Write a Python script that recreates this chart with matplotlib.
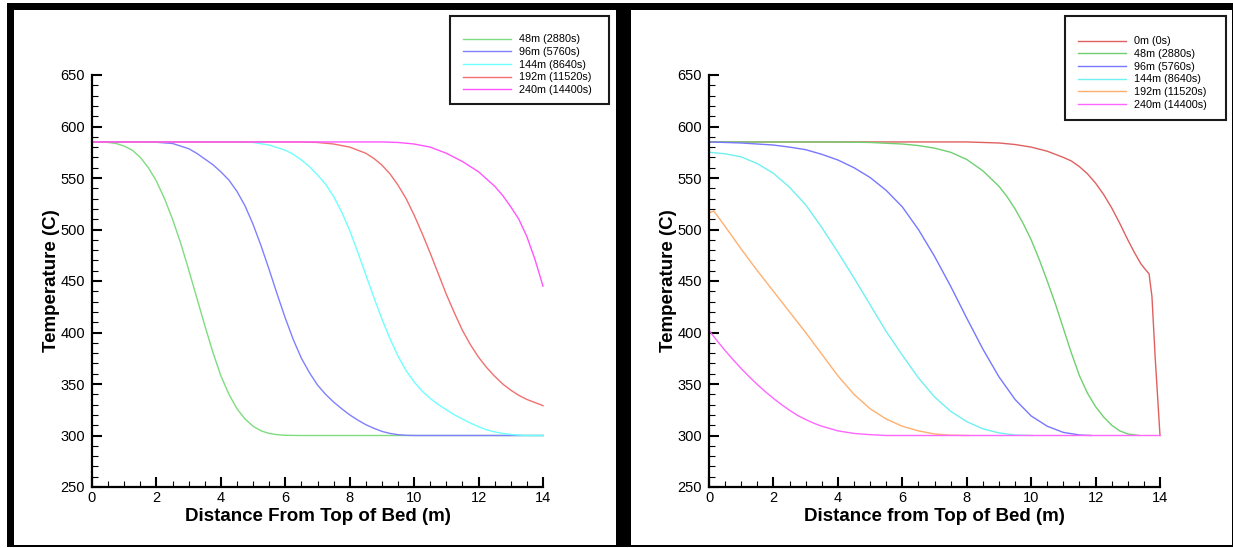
import matplotlib
matplotlib.use('Agg')
import matplotlib.pyplot as plt
from matplotlib.patches import Rectangle
from matplotlib.ticker import MultipleLocator

plt.rcParams['font.family'] = ['Liberation Sans', 'DejaVu Sans']

W, H = 1233, 548

# ---- left panel data (distance m, temperature C) ----
l48_x = [0, 0.25, 0.5, 0.75, 1, 1.25, 1.5, 1.75, 2, 2.25, 2.5, 2.75, 3, 3.25, 3.5, 3.75,
         4, 4.25, 4.5, 4.75, 5, 5.25, 5.5, 5.75, 6, 6.5, 14]
l48_T = [585, 585, 584.5, 583.5, 581, 577, 570, 560, 547, 530, 510, 487, 461, 434, 407, 381,
         358, 340, 326, 316, 309, 304.5, 302, 300.8, 300.2, 300, 300]

l96_x = [0, 1.5, 2, 2.5, 3, 3.25, 3.5, 3.75, 4, 4.25, 4.5, 4.75, 5, 5.25, 5.5, 5.75, 6, 6.25,
         6.5, 6.75, 7, 7.25, 7.5, 7.75, 8, 8.25, 8.5, 8.75, 9, 9.25, 9.5, 9.75, 10, 14]
l96_T = [585, 585, 584.7, 583.5, 578.5, 574, 568.5, 563, 556, 548, 537, 523, 505, 484, 461, 437,
         414, 393, 375, 361, 349, 340, 332.5, 326, 320, 315, 310.5, 307, 304, 302, 300.8, 300.2, 300, 300]

l144_x = [0, 4.5, 5, 5.5, 6, 6.25, 6.5, 6.75, 7, 7.25, 7.5, 7.75, 8, 8.25, 8.5, 8.75, 9, 9.25,
          9.5, 9.75, 10, 10.25, 10.5, 10.75, 11, 11.25, 11.5, 11.75, 12, 12.25, 12.5, 12.75,
          13, 13.25, 13.5, 14]
l144_T = [585, 585, 584.5, 582, 577, 573, 567.5, 561, 553, 544, 532, 517, 499, 478, 456, 434, 413, 394,
          377, 363, 352, 343, 336, 330, 325, 320, 316, 312, 308.5, 305.5, 303.5, 302,
          301, 300.4, 300, 300]

l192_x = [0, 6.5, 7, 7.5, 8, 8.5, 8.75, 9, 9.25, 9.5, 9.75, 10, 10.25, 10.5, 10.75, 11, 11.25,
          11.5, 11.75, 12, 12.25, 12.5, 12.75, 13, 13.25, 13.5, 13.75, 14]
l192_T = [585, 585, 584.5, 583, 580, 574, 569, 562.5, 554, 543, 530, 514, 496, 477, 457, 437, 419,
          402, 388, 376, 366, 357.5, 350, 344, 339, 335, 332, 329]

l240_x = [0, 9, 9.5, 10, 10.5, 11, 11.5, 12, 12.5, 12.75, 13, 13.25, 13.5, 13.75, 14]
l240_T = [585, 585, 584.5, 583, 580, 574, 566, 556, 542, 533, 522, 510, 493, 471, 445]

left_labels = ['48m (2880s)', '96m (5760s)', '144m (8640s)', '192m (11520s)', '240m (14400s)']
left_colors = ['#7fdc7f', '#8080ff', '#70ffff', '#f07070', '#ff55ff']

# ---- right panel data ----
r0_x = [0, 8, 8.5, 9, 9.5, 10, 10.5, 11, 11.25, 11.5, 11.75, 12, 12.25, 12.5, 12.75, 13, 13.2,
        13.4, 13.55, 13.66, 13.75, 13.85, 14]
r0_T = [585, 585, 584.5, 584, 582.5, 580, 576, 570, 566.5, 561, 554, 545, 534, 521, 506, 490, 478,
        467, 461, 457, 435, 376, 300]

r48_x = [0, 4, 5, 6, 6.5, 7, 7.5, 8, 8.5, 9, 9.25, 9.5, 9.75, 10, 10.25, 10.5, 10.75, 11,
         11.25, 11.5, 11.75, 12, 12.25, 12.5, 12.75, 13, 13.35]
r48_T = [585, 585, 584.5, 583, 581.5, 579, 575, 568, 557, 542, 532, 520, 506, 490, 471, 450, 428, 404,
         380, 358, 341, 328, 318, 310, 304.5, 301.5, 300]

r96_x = [0, 0.5, 1, 1.5, 2, 2.5, 3, 3.5, 4, 4.5, 5, 5.5, 6, 6.5, 7, 7.5, 8, 8.5, 9, 9.5, 10,
         10.5, 11, 11.5, 11.86]
r96_T = [585, 584.5, 584, 583, 582, 580, 577.5, 573, 567.5, 560, 550.5, 538, 522, 500, 474, 445, 414,
         384, 357, 335, 319, 309, 303, 300.5, 300]

r144_x = [0, 0.5, 1, 1.5, 2, 2.5, 3, 3.5, 4, 4.5, 5, 5.5, 6, 6.5, 7, 7.5, 8, 8.5, 9, 9.5, 10.04]
r144_T = [575, 573.5, 570.5, 564, 554.5, 541, 524, 502, 478, 453, 427, 401, 378, 356, 337.5, 323.5, 313.5,
          306.5, 302.5, 300.5, 300]

r192_x = [0, 0.15, 0.5, 1, 1.5, 2, 2.5, 3, 3.5, 4, 4.5, 5, 5.5, 6, 6.5, 7, 7.5, 8.05]
r192_T = [516, 518, 503, 481, 460, 440, 420, 400, 379, 358, 340, 326, 316, 309, 304.5, 301.5, 300.3, 300]

r240_x = [0, 0.25, 0.5, 0.75, 1, 1.25, 1.5, 1.75, 2, 2.25, 2.5, 2.75, 3, 3.25, 3.5, 4, 4.5, 5, 5.5, 14]
r240_T = [402, 392, 382.5, 373.5, 365, 357, 349.5, 342.5, 336, 330, 324.5, 319.5, 315.5, 312, 309,
          304.5, 302, 300.8, 300, 300]

right_labels = ['0m (0s)', '48m (2880s)', '96m (5760s)', '144m (8640s)', '192m (11520s)', '240m (14400s)']
right_colors = ['#e06060', '#70d070', '#7777ff', '#70f0f0', '#ffb070', '#ff66ff']


def fx(p):
    return p / W


def fy(p):
    return 1 - p / H


fig = plt.figure(figsize=(W / 100, H / 100), dpi=100)


def style_axes(ax, xlabel):
    ax.set_xlim(0, 14)
    ax.set_ylim(250, 650)
    ax.xaxis.set_major_locator(MultipleLocator(2))
    ax.xaxis.set_minor_locator(MultipleLocator(0.5))
    ax.yaxis.set_major_locator(MultipleLocator(50))
    ax.yaxis.set_minor_locator(MultipleLocator(10))
    for s in ['top', 'right']:
        ax.spines[s].set_visible(False)
    for s in ['left', 'bottom']:
        ax.spines[s].set_linewidth(1.6)
    ax.tick_params(which='major', direction='in', length=7.5, width=1.5,
                   labelsize=10.5, pad=3, colors='black')
    ax.tick_params(which='minor', direction='in', length=4.5, width=0.8)
    ax.tick_params(axis='y', pad=5)
    ax.set_xlabel(xlabel, fontsize=13.5, fontweight='bold', labelpad=2)
    ax.set_ylabel('Temperature (C)', fontsize=13.5, fontweight='bold', labelpad=0)


# left panel
axL = fig.add_axes([fx(92), fy(487), fx(543 - 92), (487 - 75) / H])
left_series = [(l48_x, l48_T), (l96_x, l96_T), (l144_x, l144_T), (l192_x, l192_T), (l240_x, l240_T)]
for (x, t), c, lab in zip(left_series, left_colors, left_labels):
    axL.plot(x, t, color=c, linewidth=1.0, label=lab, clip_on=False)
style_axes(axL, 'Distance From Top of Bed (m)')

# right panel
axR = fig.add_axes([fx(709), fy(487), fx(1160 - 709), (487 - 75) / H])
right_series = [(r0_x, r0_T), (r48_x, r48_T), (r96_x, r96_T), (r144_x, r144_T),
                (r192_x, r192_T), (r240_x, r240_T)]
for (x, t), c, lab in zip(right_series, right_colors, right_labels):
    axR.plot(x, t, color=c, linewidth=1.0, label=lab, clip_on=False)
style_axes(axR, 'Distance from Top of Bed (m)')

# legends with boxed frames
for ax, lx, ly, box in [(axL, 463, 34.5, (450, 16, 609, 104)),
                        (axR, 1078, 36.5, (1065, 16, 1226, 120))]:
    ax.legend(frameon=False, loc='upper left',
              bbox_to_anchor=(fx(lx), fy(ly)), bbox_transform=fig.transFigure,
              fontsize=7.8, handlelength=4.4, handletextpad=0.74,
              labelspacing=0.24, borderpad=0, borderaxespad=0)
    x0, y0, x1, y1 = box
    fig.add_artist(Rectangle((fx(x0), fy(y1)), fx(x1 - x0), (y1 - y0) / H,
                             transform=fig.transFigure, facecolor='none',
                             edgecolor='#1a1a1a', linewidth=1.5))

# black panel frames
frames = [(6.5, 3.3, 1233, 10), (6.5, 3.3, 14, 546), (615.5, 3.3, 630.5, 546),
          (6.5, 544.5, 1233, 546.5), (1231.5, 3.3, 1233, 546)]
for x0, y0, x1, y1 in frames:
    fig.add_artist(Rectangle((fx(x0), fy(y1)), fx(x1 - x0), (y1 - y0) / H,
                             transform=fig.transFigure, facecolor='black',
                             edgecolor='none'))

fig.savefig('out.png', dpi=100)
